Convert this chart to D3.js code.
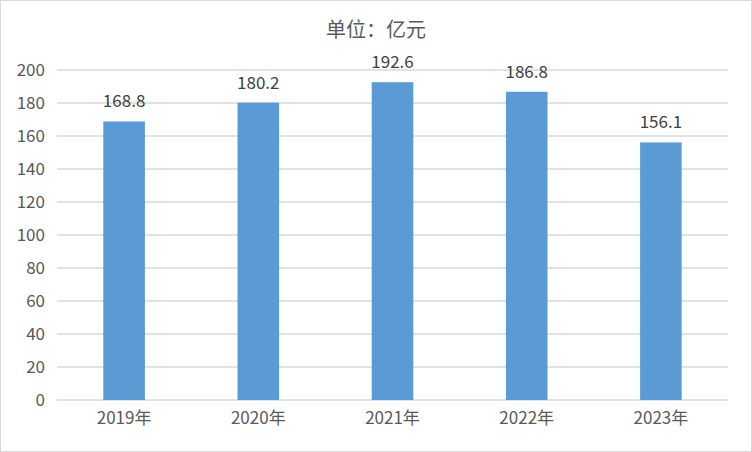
<!DOCTYPE html>
<html><head><meta charset="utf-8">
<script src="https://cdn.jsdelivr.net/npm/d3@7/dist/d3.min.js"></script>
<style>body{margin:0;background:#fff;}svg{display:block;}</style>
</head><body>
<svg id="c" width="752" height="452"></svg>
<script>
const categories = ["2019年","2020年","2021年","2022年","2023年"];
const values = [168.8, 180.2, 192.6, 186.8, 156.1];
const yTicks = [0,20,40,60,80,100,120,140,160,180,200];
const title = "单位：亿元";

const svg = d3.select("#c");
const W = 752, H = 452;
const m = {left: 57, right: 24, top: 70, bottom: 52};
const font = "'Microsoft YaHei','Noto Sans CJK SC','DejaVu Sans',sans-serif";

svg.append("rect").attr("x",0.5).attr("y",0.5).attr("width",W-1).attr("height",H-1)
  .attr("fill","#fff").attr("stroke","#d9d9d9");

const x = d3.scaleBand().domain(categories).range([m.left, W - m.right]).paddingInner(0.69).paddingOuter(0.345);
const y = d3.scaleLinear().domain([0,200]).range([H - m.bottom, m.top]);

const grid = svg.append("g");
grid.selectAll("line").data(yTicks).join("line")
  .attr("x1", m.left).attr("x2", W - m.right)
  .attr("y1", d => Math.round(y(d))).attr("y2", d => Math.round(y(d)))
  .attr("stroke", "#d9d9d9").attr("stroke-width", 1.5);

const yAxis = svg.append("g").attr("transform", `translate(${m.left},0)`)
  .call(d3.axisLeft(y).tickValues(yTicks).tickSize(0).tickPadding(12));
yAxis.select(".domain").remove();
yAxis.selectAll("text").attr("font-family", font).attr("font-size", 17).attr("fill", "#595959");

const xAxis = svg.append("g").attr("transform", `translate(0,${H - m.bottom})`)
  .call(d3.axisBottom(x).tickSize(0).tickPadding(12));
xAxis.select(".domain").remove();
xAxis.selectAll("text").attr("font-family", font).attr("font-size", 17).attr("fill", "#595959");

svg.append("g").selectAll("rect").data(values).join("rect")
  .attr("x", (d,i) => x(categories[i])).attr("width", x.bandwidth())
  .attr("y", d => y(d)).attr("height", d => y(0) - y(d))
  .attr("fill", "#5b9bd5");

svg.append("g").selectAll("text").data(values).join("text")
  .attr("x", (d,i) => x(categories[i]) + x.bandwidth()/2)
  .attr("y", d => y(d) - 14)
  .attr("text-anchor", "middle")
  .attr("font-family", font).attr("font-size", 17).attr("fill", "#404040")
  .text(d => d.toFixed(1));

svg.append("text").attr("x", W/2).attr("y", 37).attr("text-anchor","middle")
  .attr("font-family", font).attr("font-size", 20).attr("fill", "#595959").text(title);
</script>
</body></html>
